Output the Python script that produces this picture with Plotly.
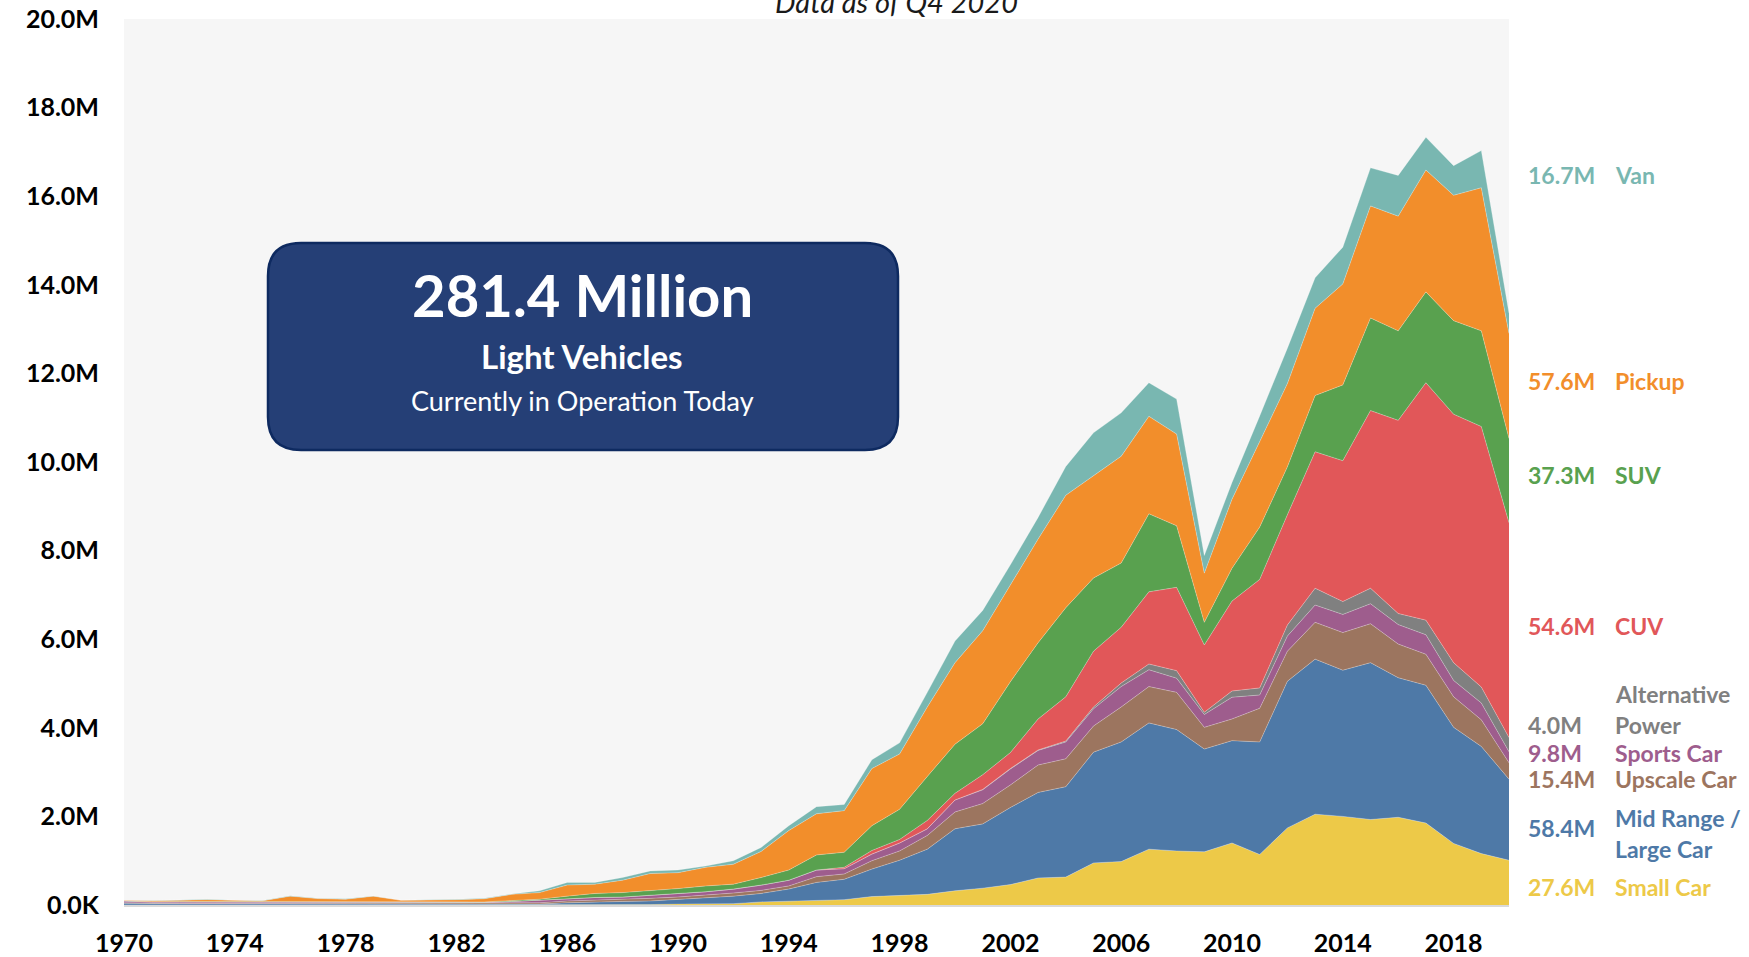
import plotly.graph_objects as go

# Annual light-vehicle volumes by segment, in millions of units
years = list(range(1970, 2021))

small_car = [0.0] * 19 + [
    0.01, 0.02, 0.02, 0.03, 0.07, 0.09, 0.11, 0.12, 0.19, 0.21,
    0.24, 0.32, 0.38, 0.46, 0.61, 0.63, 0.95, 0.98, 1.26, 1.22,
    1.20, 1.40, 1.14, 1.74, 2.05, 2.00, 1.93, 1.98, 1.85, 1.39, 1.16, 1.01,
]
mid_large_car = [0.04] + [0.03] * 13 + [
    0.02, 0.02, 0.05, 0.07, 0.08, 0.08, 0.11, 0.15, 0.17, 0.19,
    0.27, 0.40, 0.46, 0.62, 0.80, 1.02, 1.40, 1.45, 1.74, 1.93,
    2.04, 2.50, 2.70, 2.85, 2.74, 2.32, 2.31, 2.54, 3.31, 3.50,
    3.30, 3.54, 3.15, 3.11, 2.62, 2.42, 1.83,
]
upscale_car = [0.01] * 14 + [
    0.02, 0.03, 0.04, 0.04, 0.04, 0.06, 0.05, 0.05, 0.07, 0.07,
    0.07, 0.13, 0.12, 0.19, 0.21, 0.31, 0.38, 0.46, 0.51, 0.62,
    0.63, 0.59, 0.79, 0.82, 0.84, 0.49, 0.49, 0.76, 0.68, 0.83,
    0.85, 0.88, 0.76, 0.70, 0.69, 0.60, 0.37,
]
sports_car = [0.04, 0.03, 0.03, 0.03] + [0.02] * 10 + [
    0.04, 0.06, 0.06, 0.06, 0.06, 0.07, 0.08, 0.08, 0.09, 0.12,
    0.13, 0.15, 0.12, 0.15, 0.18, 0.15, 0.27, 0.31, 0.36, 0.33,
    0.38, 0.39, 0.46, 0.38, 0.32, 0.29, 0.49, 0.30, 0.34, 0.39,
    0.41, 0.45, 0.44, 0.44, 0.37, 0.38, 0.25,
]
alternative_power = [0.0] * 31 + [
    0.01, 0.01, 0.01, 0.02, 0.04, 0.08, 0.13, 0.17, 0.05, 0.14,
    0.16, 0.25, 0.38, 0.29, 0.35, 0.25, 0.33, 0.40, 0.36, 0.32,
]
cuv = [0.0] * 26 + [
    0.03, 0.08, 0.08, 0.19, 0.15, 0.33, 0.36, 0.70, 1.00, 1.26,
    1.26, 1.63, 1.88, 1.52, 2.03, 2.45, 2.49, 3.08, 3.18, 4.01,
    4.36, 5.36, 5.61, 5.88, 4.85,
]
suv = [0.005, 0.005] + [0.01] * 12 + [
    0.02, 0.02, 0.05, 0.09, 0.10, 0.10, 0.11, 0.13, 0.11, 0.17,
    0.23, 0.34, 0.34, 0.56, 0.68, 0.99, 1.11, 1.15, 1.60, 1.72,
    2.01, 1.65, 1.45, 1.76, 1.39, 0.51, 0.74, 1.18, 1.08, 1.27,
    1.71, 2.09, 2.02, 2.05, 2.11, 2.16, 1.90,
]
pickup = [
    0.01, 0.02, 0.03, 0.04, 0.035, 0.025, 0.13, 0.075, 0.06, 0.13,
    0.035, 0.04, 0.05, 0.07, 0.14, 0.15, 0.25, 0.21, 0.28, 0.39,
    0.36, 0.42, 0.45, 0.59, 0.89, 0.93, 0.94, 1.29, 1.25, 1.57,
    1.84, 2.10, 2.18, 2.34, 2.54, 2.31, 2.41, 2.20, 2.07, 1.11,
    1.56, 1.93, 1.88, 1.97, 2.28, 2.53, 2.59, 2.75, 2.83, 3.23, 2.37,
]
van = [
    0.005, 0.005, 0.005, 0.01, 0.005, 0.005, 0.01, 0.005, 0.01, 0.005,
    0.005, 0.005, 0.01, 0.01, 0.01, 0.04, 0.06, 0.04, 0.06, 0.06,
    0.06, 0.03, 0.08, 0.09, 0.11, 0.16, 0.14, 0.20, 0.25, 0.33,
    0.49, 0.46, 0.46, 0.49, 0.65, 0.97, 0.98, 0.76, 0.79, 0.40,
    0.38, 0.58, 0.80, 0.69, 0.83, 0.86, 0.92, 0.74, 0.67, 0.84, 0.46,
]

segment_names = ["Small Car", "Mid Range / Large Car", "Upscale Car", "Sports Car",
                 "Alternative Power", "CUV", "SUV", "Pickup", "Van"]
segment_values = [small_car, mid_large_car, upscale_car, sports_car, alternative_power,
                  cuv, suv, pickup, van]
segment_colors = ["#EDC948", "#4E79A7", "#9C755F", "#9E5D8D", "#808080",
                  "#E15759", "#59A14F", "#F28E2B", "#79B7B1"]

y_ticks = list(range(0, 21, 2))
y_tick_text = ["0.0K"] + [f"{v:.1f}M" for v in y_ticks[1:]]
x_ticks = list(range(1970, 2019, 4))

# Figure geometry (pixels)
W, H = 1749, 957
L, R, T, B = 124, 240, 19, 52
PW, PH = W - L - R, H - T - B


def px_x(x):
    return (x - L) / PW


def px_y(y):
    return (H - B - y) / PH


fig = go.Figure()
for name, vals, col in zip(segment_names, segment_values, segment_colors):
    fig.add_trace(go.Scatter(
        x=years, y=vals, name=name, stackgroup="one", mode="lines",
        line=dict(width=0.8, color="rgba(255,255,255,0.35)"),
        fillcolor=col, hoverinfo="x+y+name",
    ))

# Rounded summary box
bx0, by0, bx1, by1, rad = 268, 243, 898, 450, 33
x0, x1 = px_x(bx0), px_x(bx1)
y0, y1 = px_y(by0), px_y(by1)  # y0 is the top edge
rx, ry = rad / PW, rad / PH
box_path = (
    f"M {x0 + rx},{y0} L {x1 - rx},{y0} Q {x1},{y0} {x1},{y0 - ry} "
    f"L {x1},{y1 + ry} Q {x1},{y1} {x1 - rx},{y1} "
    f"L {x0 + rx},{y1} Q {x0},{y1} {x0},{y1 + ry} "
    f"L {x0},{y0 - ry} Q {x0},{y0} {x0 + rx},{y0} Z"
)
shapes = [dict(type="path", path=box_path, xref="paper", yref="paper",
               fillcolor="#253F76", line=dict(color="#0E2A60", width=2.5), layer="above")]

annotations = [
    dict(text="281.4 Million", x=px_x(582), y=px_y(294), font=dict(size=58, color="white", family="Lato", weight="bold")),
    dict(text="Light Vehicles", x=px_x(582), y=px_y(356), font=dict(size=33, color="white", family="Lato", weight="bold")),
    dict(text="Currently in Operation Today", x=px_x(582), y=px_y(400), font=dict(size=27, color="white", family="Lato")),
    dict(text="<i>Data as of Q4 2020</i>", x=px_x(896), y=px_y(1), font=dict(size=29, color="#1a1a1a", family="Lato")),
]
for a in annotations:
    a.update(xref="paper", yref="paper", showarrow=False, xanchor="center", yanchor="middle")

# Segment totals and names on the right
label_rows = [
    ("16.7M", 175, [("Van", 175)], "#79B7B1"),
    ("57.6M", 381, [("Pickup", 381)], "#F28E2B"),
    ("37.3M", 475, [("SUV", 475)], "#59A14F"),
    ("54.6M", 626, [("CUV", 626)], "#E15759"),
    ("4.0M", 725, [("Alternative", 694), ("Power", 725)], "#808080"),
    ("9.8M", 753, [("Sports Car", 753)], "#9E5D8D"),
    ("15.4M", 779, [("Upscale Car", 779)], "#9C755F"),
    ("58.4M", 828, [("Mid Range /", 818), ("Large Car", 849)], "#4E79A7"),
    ("27.6M", 887, [("Small Car", 887)], "#EDC948"),
]
for total, ty, names, col in label_rows:
    annotations.append(dict(text=total, x=px_x(1526), y=px_y(ty), xref="paper", yref="paper",
                            showarrow=False, xanchor="left", yanchor="middle",
                            font=dict(size=23, color=col, family="Lato", weight="bold")))
    for nm, ny in names:
        annotations.append(dict(text=nm, x=px_x(1613), y=px_y(ny), xref="paper", yref="paper",
                                showarrow=False, xanchor="left", yanchor="middle",
                                font=dict(size=23, color=col, family="Lato", weight="bold")))

fig.update_layout(
    width=W, height=H,
    margin=dict(l=L, r=R, t=T, b=B, pad=0, autoexpand=False),
    paper_bgcolor="white", plot_bgcolor="#F6F6F6",
    showlegend=False,
    shapes=shapes, annotations=annotations,
    xaxis=dict(range=[1970, 2020], tickvals=x_ticks, ticktext=[str(t) for t in x_ticks],
               showgrid=False, zeroline=False, showline=True, linecolor="#D9D9D9", linewidth=2,
               ticks="", ticklabelstandoff=15, automargin=False,
               tickfont=dict(size=25, color="black", family="Lato", weight="bold")),
    yaxis=dict(range=[0, 20], tickvals=y_ticks, ticktext=y_tick_text,
               showgrid=False, zeroline=False, showline=False, ticks="", ticklabelstandoff=24,
               automargin=False,
               tickfont=dict(size=25, color="black", family="Lato", weight="bold")),
)

fig.write_html("out.html")
